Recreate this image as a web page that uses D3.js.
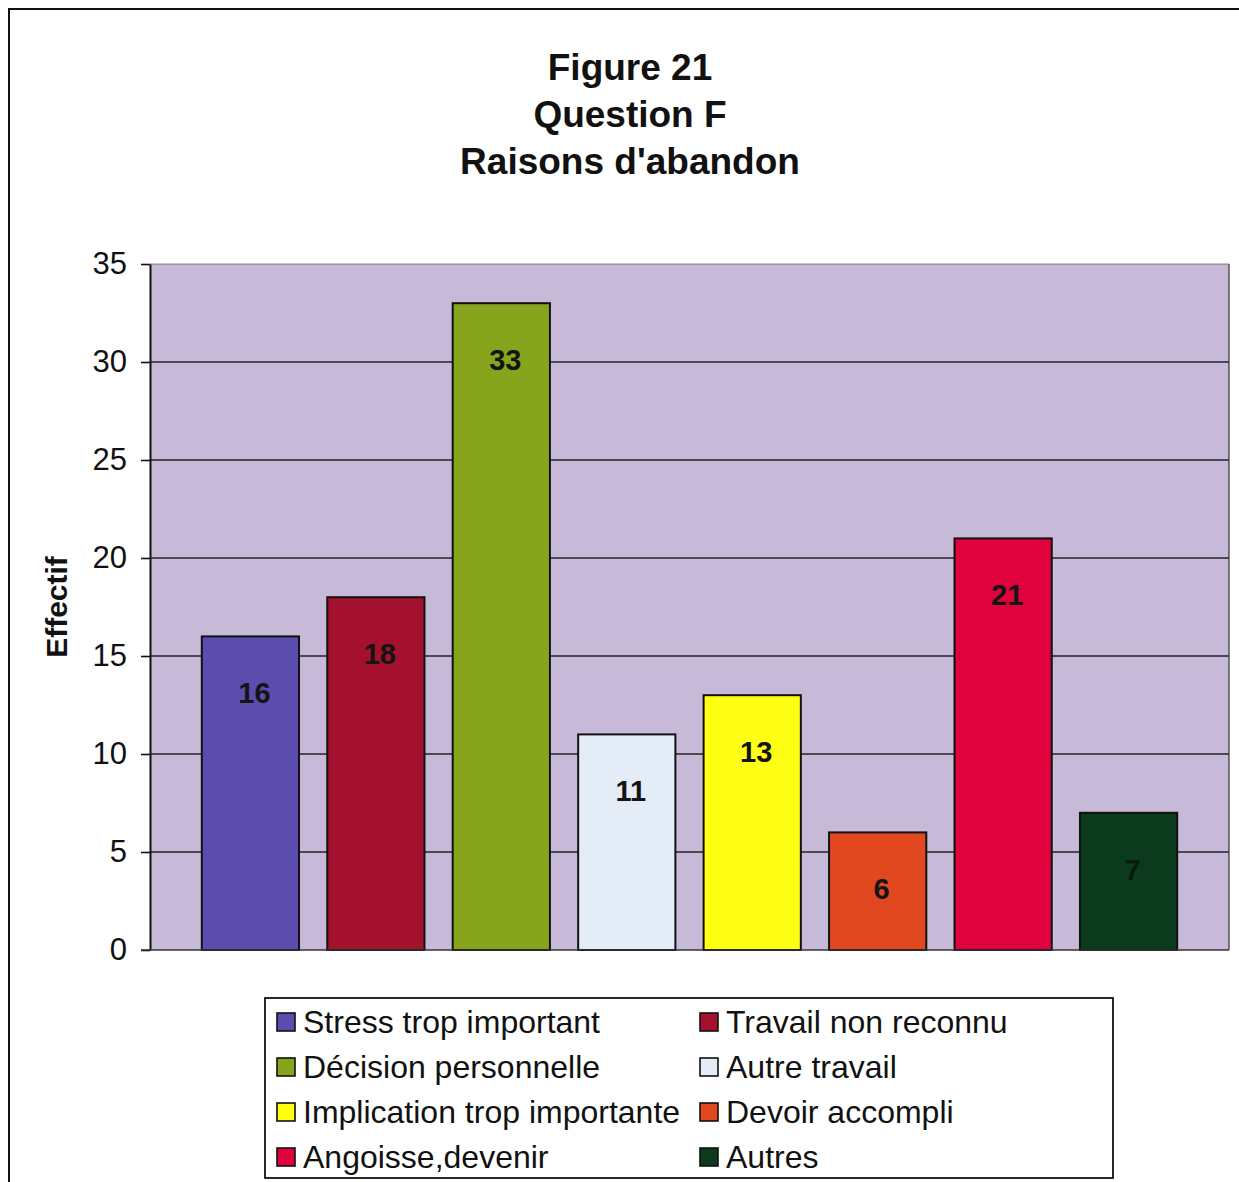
<!DOCTYPE html>
<html>
<head>
<meta charset="utf-8">
<script src="https://cdn.jsdelivr.net/npm/d3@7"></script>
<style>
  html, body { margin: 0; padding: 0; background: #fff; }
  svg { display: block; font-family: "Liberation Sans", Arial, sans-serif; }
</style>
</head>
<body>
<svg id="chart" width="1239" height="1182"></svg>
<script>
// Reasons given for leaving (question F)
const categories = [
  "Stress trop important",
  "Travail non reconnu",
  "Décision personnelle",
  "Autre travail",
  "Implication trop importante",
  "Devoir accompli",
  "Angoisse,devenir",
  "Autres"
];
const values = [16, 18, 33, 11, 13, 6, 21, 7];
const colors = ["#5B4CAE", "#A3112F", "#86A51D", "#E4ECF7", "#FFFF14", "#E2481F", "#DF023C", "#0B3A1D"];
const yTicks = [0, 5, 10, 15, 20, 25, 30, 35];
const titleLines = ["Figure 21", "Question F", "Raisons d'abandon"];
const yLabel = "Effectif";

const svg = d3.select("#chart");

// Outer frame (top and left edges)
svg.append("path")
  .attr("d", "M9,1182 L9,9 L1239,9")
  .attr("fill", "none").attr("stroke", "#111").attr("stroke-width", 2);

// Title block
svg.append("g").selectAll("text").data(titleLines).join("text")
  .attr("x", 630).attr("y", (d, i) => 80 + i * 47)
  .attr("text-anchor", "middle")
  .attr("font-size", 37).attr("font-weight", "bold").attr("fill", "#111")
  .text(d => d);

// Plot area
const plot = { left: 150, right: 1229, top: 264, bottom: 950 };

const y = d3.scaleLinear().domain([0, 35]).range([plot.bottom, plot.top]);
const x = d3.scaleBand().domain(categories).range([188, 1191]).paddingInner(0.225).paddingOuter(0.11);

svg.append("rect")
  .attr("x", plot.left).attr("y", plot.top)
  .attr("width", plot.right - plot.left).attr("height", plot.bottom - plot.top)
  .attr("fill", "#C6BAD8");

// Horizontal gridlines
svg.append("g").selectAll("line").data(yTicks.filter(t => t > 0)).join("line")
  .attr("x1", plot.left).attr("x2", plot.right)
  .attr("y1", d => y(d)).attr("y2", d => y(d))
  .attr("stroke", "#222").attr("stroke-width", d => d === 35 ? 1 : 1.6)
  .attr("stroke-opacity", d => d === 35 ? 0.5 : 1);

// Right edge of the plot area
svg.append("line")
  .attr("x1", plot.right).attr("x2", plot.right)
  .attr("y1", plot.top).attr("y2", plot.bottom)
  .attr("stroke", "#333").attr("stroke-width", 1.2);

// Bars
svg.append("g").selectAll("rect").data(values).join("rect")
  .attr("x", (d, i) => x(categories[i]))
  .attr("y", d => y(d))
  .attr("width", x.bandwidth())
  .attr("height", d => y(0) - y(d))
  .attr("fill", (d, i) => colors[i])
  .attr("stroke", "#111").attr("stroke-width", 2);

// Value labels inside the bars
svg.append("g").selectAll("text").data(values).join("text")
  .attr("x", (d, i) => x(categories[i]) + x.bandwidth() / 2 + 4)
  .attr("y", d => y(d) + 67)
  .attr("text-anchor", "middle")
  .attr("font-size", 29).attr("font-weight", "bold")
  .attr("fill", (d, i) => i === 7 ? "#0a1a0e" : "#141414")
  .text(d => d);

// Y axis
const yAxis = d3.axisLeft(y).tickValues(yTicks).tickSize(9).tickPadding(14).tickSizeOuter(0);
const gy = svg.append("g").attr("transform", `translate(${plot.left},0)`).call(yAxis);
gy.select(".domain").attr("stroke", "#111").attr("stroke-width", 2);
gy.selectAll(".tick line").attr("stroke", "#111").attr("stroke-width", 1.6);
gy.selectAll(".tick text")
  .attr("font-size", 31).attr("fill", "#111")
  .attr("font-family", "'Liberation Sans', Arial, sans-serif");

// Baseline
svg.append("line")
  .attr("x1", plot.left - 9).attr("x2", plot.right)
  .attr("y1", plot.bottom).attr("y2", plot.bottom)
  .attr("stroke", "#333").attr("stroke-width", 1.4);

// Y axis title
svg.append("text")
  .attr("transform", "translate(67,607) rotate(-90)")
  .attr("text-anchor", "middle")
  .attr("font-size", 30).attr("font-weight", "bold").attr("fill", "#111")
  .text(yLabel);

// Legend
const legend = { x: 265, y: 998, w: 848, h: 180 };
svg.append("rect")
  .attr("x", legend.x).attr("y", legend.y)
  .attr("width", legend.w).attr("height", legend.h)
  .attr("fill", "#fff").attr("stroke", "#111").attr("stroke-width", 1.8);

const item = svg.append("g").selectAll("g").data(categories).join("g")
  .attr("transform", (d, i) => `translate(${i % 2 === 0 ? 277 : 700},${1022 + Math.floor(i / 2) * 45})`);
item.append("rect")
  .attr("x", 0).attr("y", -9).attr("width", 18).attr("height", 18)
  .attr("fill", (d, i) => colors[i])
  .attr("stroke", "#111").attr("stroke-width", 1.6);
item.append("text")
  .attr("x", 26).attr("y", 11)
  .attr("font-size", 32).attr("fill", "#111")
  .text(d => d);
</script>
</body>
</html>
